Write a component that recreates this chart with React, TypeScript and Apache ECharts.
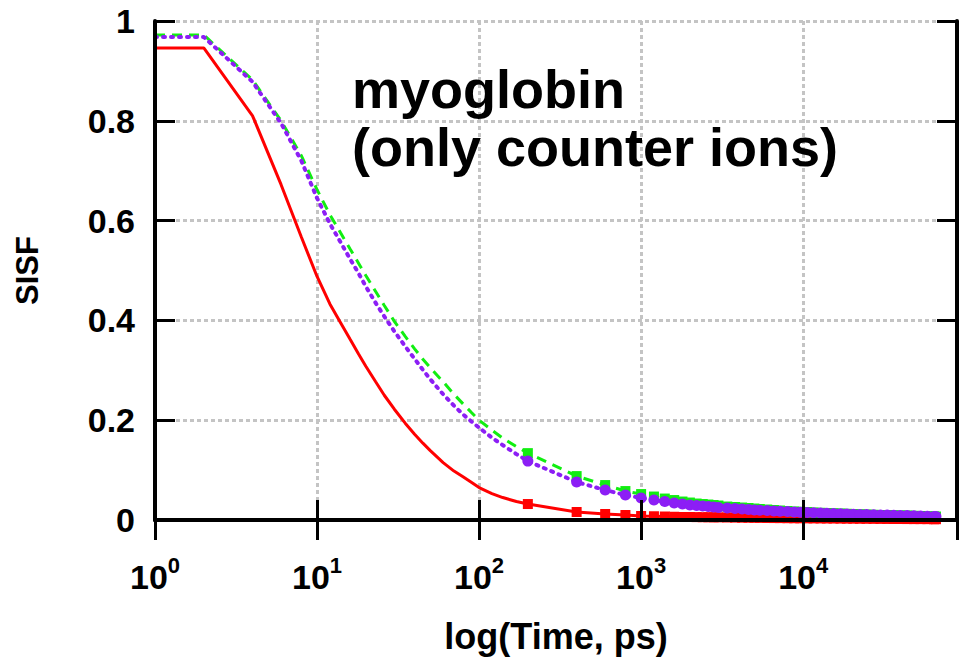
import React, { useEffect, useRef } from 'react';
import * as echarts from 'echarts';

// Smooth part of the curves (no markers), time in ps
const curveTimes = [1, 2, 4, 6, 8, 10, 12, 14, 16, 18, 20, 23, 26, 30, 35, 40, 45, 50, 60, 70, 80, 90, 100, 120, 140, 170];
const redCurve = [0.946, 0.946, 0.81, 0.672, 0.567, 0.488, 0.433, 0.395, 0.362, 0.333, 0.308, 0.277, 0.25, 0.222, 0.194, 0.172, 0.154, 0.139, 0.115, 0.098, 0.086, 0.075, 0.065, 0.053, 0.045, 0.037];
const greenCurve = [0.972, 0.972, 0.882, 0.8, 0.73, 0.662, 0.612, 0.575, 0.543, 0.515, 0.49, 0.458, 0.43, 0.398, 0.368, 0.343, 0.322, 0.305, 0.277, 0.252, 0.232, 0.215, 0.2, 0.18, 0.164, 0.147];
const purpleCurve = [0.968, 0.968, 0.878, 0.795, 0.72, 0.645, 0.594, 0.556, 0.523, 0.495, 0.468, 0.435, 0.408, 0.378, 0.348, 0.323, 0.301, 0.282, 0.252, 0.229, 0.211, 0.197, 0.185, 0.165, 0.15, 0.132];

// Marked points (every 200 ps, thinned in the dense tail)
const markerTimes = [200, 400, 600, 800, 1000, 1200, 1400, 1600, 1800, 2000, 2200, 2400, 2600, 2800, 3000, 3400, 3800, 4200, 4600, 5000, 5400, 6000, 6600, 7200, 8000, 8800, 9600, 10600, 11600, 12800, 14000, 15400, 17000, 18600, 20400, 22400, 24600, 27200, 30000, 33000, 36200, 39800, 43800, 48200, 53000, 58400, 64200, 66000];
const redMarks = [0.032, 0.016, 0.012, 0.01, 0.008, 0.0075, 0.007, 0.0065, 0.006, 0.006, 0.0058, 0.0056, 0.0055, 0.0054, 0.0053, 0.005, 0.0048, 0.0046, 0.0045, 0.0044, 0.0042, 0.004, 0.0039, 0.0038, 0.0036, 0.0035, 0.0034, 0.0033, 0.0032, 0.0031, 0.003, 0.0029, 0.0028, 0.0027, 0.0026, 0.0025, 0.0024, 0.0023, 0.0022, 0.0021, 0.002, 0.002, 0.0019, 0.0018, 0.0018, 0.0017, 0.0016, 0.0016];
const greenMarks = [0.134, 0.088, 0.07, 0.058, 0.052, 0.047, 0.043, 0.04, 0.037, 0.035, 0.033, 0.032, 0.031, 0.03, 0.029, 0.027, 0.026, 0.025, 0.024, 0.023, 0.022, 0.021, 0.02, 0.019, 0.018, 0.017, 0.0165, 0.016, 0.015, 0.0145, 0.014, 0.0135, 0.013, 0.0125, 0.012, 0.0115, 0.011, 0.0105, 0.01, 0.0098, 0.0095, 0.0092, 0.009, 0.0085, 0.008, 0.0075, 0.007, 0.007];
const purpleMarks = [0.118, 0.076, 0.06, 0.05, 0.044, 0.04, 0.037, 0.034, 0.032, 0.03, 0.029, 0.028, 0.027, 0.026, 0.025, 0.024, 0.023, 0.022, 0.021, 0.02, 0.0195, 0.019, 0.018, 0.0175, 0.017, 0.016, 0.0155, 0.015, 0.0145, 0.014, 0.0135, 0.013, 0.0125, 0.012, 0.0115, 0.011, 0.0108, 0.0105, 0.01, 0.0098, 0.0095, 0.0092, 0.009, 0.0085, 0.008, 0.0075, 0.007, 0.007];

const xMin = 1;
const xMax = 89000;
const yTicks = [0, 0.2, 0.4, 0.6, 0.8, 1];
const titleLines = ['myoglobin', '(only counter ions)'];
const FONT = '"Liberation Sans", Arial, Helvetica, sans-serif';

function buildData(curve: number[], marks: number[]) {
  const a: any[] = curveTimes.map((t, i) => ({ value: [t, curve[i]], symbol: 'none' }));
  const b: any[] = markerTimes.map((t, i) => [t, marks[i]]);
  return a.concat(b);
}

export default function App() {
  const ref = useRef<HTMLDivElement>(null);
  useEffect(() => {
    if (!ref.current) return;
    const chart = echarts.init(ref.current, null, { renderer: 'svg' });
    const frameLine = { show: true, lineStyle: { color: '#000', width: 4 } };
    const frameTick = { show: true, inside: true, length: 20, lineStyle: { color: '#000', width: 3 } };
    const gridSplit = { show: true, lineStyle: { color: '#c4c4c4', width: 3, type: [4, 3] as any } };
    const xFmt = (v: number) => {
      const e = Math.log10(v);
      if (Math.abs(e - Math.round(e)) > 1e-6) return '';
      return `{b|10}{s|${Math.round(e)}}`;
    };
    const option: any = {
      animation: false,
      backgroundColor: '#fff',
      grid: { left: 155, right: 3, top: 21, bottom: 140, containLabel: false },
      xAxis: [
        {
          type: 'log', logBase: 10, min: xMin, max: xMax, position: 'bottom', z: 10,
          axisLine: frameLine, axisTick: frameTick, splitLine: { show: false },
          axisLabel: {
            formatter: xFmt, margin: 34, showMaxLabel: false,
            rich: {
              b: { fontFamily: FONT, fontWeight: 'bold', fontSize: 34, lineHeight: 40, color: '#000', verticalAlign: 'bottom' },
              s: { fontFamily: FONT, fontWeight: 'bold', fontSize: 22, lineHeight: 22, color: '#000', verticalAlign: 'top' },
            },
          },
          name: 'log(Time, ps)', nameLocation: 'middle', nameGap: 98,
          nameTextStyle: { fontFamily: FONT, fontWeight: 'bold', fontSize: 36, color: '#000' },
        },
        {
          type: 'log', logBase: 10, min: xMin, max: xMax, position: 'top', z: 10,
          axisLine: frameLine, axisTick: frameTick, splitLine: { show: false }, axisLabel: { show: false },
        },
        {
          type: 'log', logBase: 10, min: xMin, max: xMax, position: 'bottom', z: 0,
          axisLine: { show: false }, axisTick: { show: false }, axisLabel: { show: false }, splitLine: gridSplit,
        },
      ],
      yAxis: [
        {
          type: 'value', min: yTicks[0], max: yTicks[yTicks.length - 1], interval: 0.2, position: 'left', z: 10,
          axisLine: frameLine, axisTick: frameTick, splitLine: { show: false },
          axisLabel: { margin: 20, fontFamily: FONT, fontWeight: 'bold', fontSize: 34, color: '#000' },
          name: 'SISF', nameLocation: 'middle', nameGap: 112, nameRotate: 90,
          nameTextStyle: { fontFamily: FONT, fontWeight: 'bold', fontSize: 31, color: '#000' },
        },
        {
          type: 'value', min: yTicks[0], max: yTicks[yTicks.length - 1], interval: 0.2, position: 'right', z: 10,
          axisLine: frameLine, axisTick: frameTick, splitLine: { show: false }, axisLabel: { show: false },
        },
        {
          type: 'value', min: yTicks[0], max: yTicks[yTicks.length - 1], interval: 0.2, position: 'left', z: 0,
          axisLine: { show: false }, axisTick: { show: false }, axisLabel: { show: false }, splitLine: gridSplit,
        },
      ],
      graphic: [
        {
          type: 'text', left: 352, top: 60, z: 20,
          style: {
            text: titleLines.join('\n'), fill: '#000',
            font: `bold 54px ${FONT}`, lineHeight: 58,
          },
        },
      ],
      series: [
        {
          name: 'red', type: 'line', data: buildData(redCurve, redMarks), color: '#ff0000',
          symbol: 'rect', symbolSize: 10, showAllSymbol: true, clip: false, z: 3,
          lineStyle: { color: '#ff0000', width: 3 },
          itemStyle: { color: '#ff0000' },
        },
        {
          name: 'green', type: 'line', data: buildData(greenCurve, greenMarks), color: '#11ee11',
          symbol: 'rect', symbolSize: 10, showAllSymbol: true, clip: false, z: 4,
          lineStyle: { color: '#11ee11', width: 3, type: [10, 7] },
          itemStyle: { color: '#11ee11' },
        },
        {
          name: 'purple', type: 'line', data: buildData(purpleCurve, purpleMarks), color: '#8c1ef5',
          symbol: 'circle', symbolSize: 11, showAllSymbol: true, clip: false, z: 5,
          lineStyle: { color: '#8c1ef5', width: 4, type: [2, 6], cap: 'round' },
          itemStyle: { color: '#8c1ef5' },
        },
      ],
    };
    chart.setOption(option);
    return () => chart.dispose();
  }, []);
  return <div ref={ref} style={{ position: 'absolute', left: 0, top: 0, width: 960, height: 660, background: '#fff' }} />;
}
